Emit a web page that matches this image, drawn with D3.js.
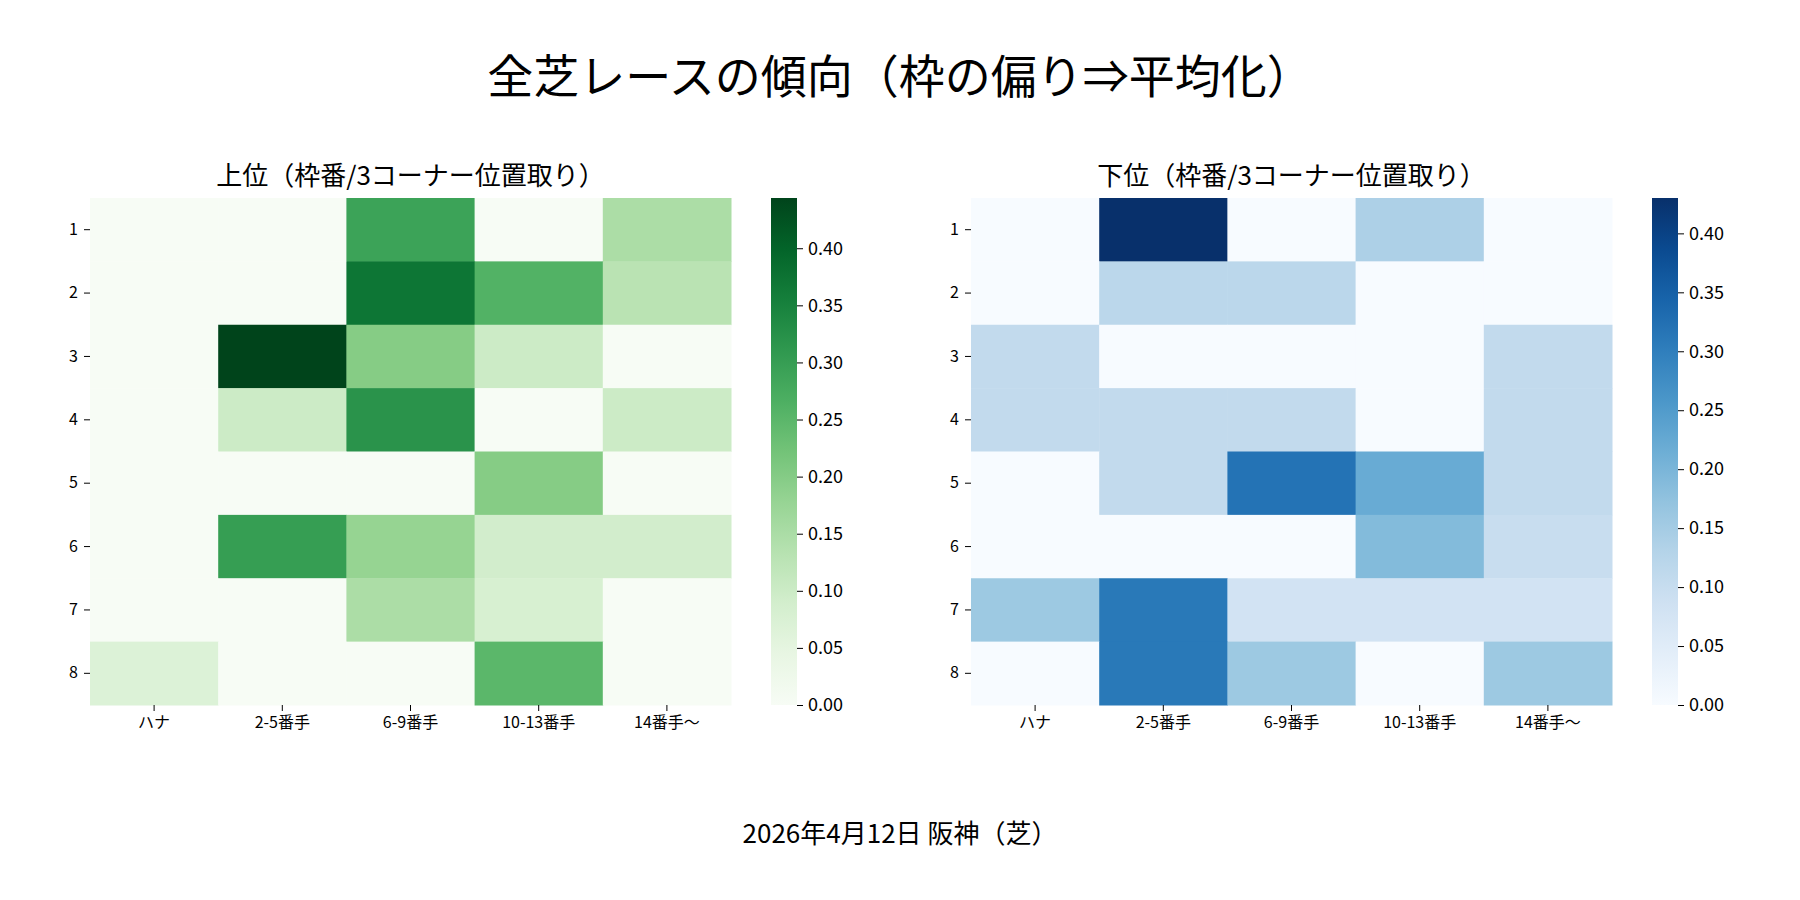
<!DOCTYPE html>
<html><head><meta charset="utf-8">
<script src="https://cdn.jsdelivr.net/npm/d3@7"></script>
<style>body{margin:0;background:#fff}text{font-family:"Noto Sans CJK JP",sans-serif;fill:#000}</style>
</head><body><svg id="c" width="1800" height="900"></svg>
<script>
var rows = ["1","2","3","4","5","6","7","8"];
var cols = ["ハナ","2-5番手","6-9番手","10-13番手","14番手〜"];
var topValues = [
  [0,0,0.29,0,0.15],
  [0,0,0.37,0.26,0.13],
  [0,0.444,0.20,0.10,0],
  [0,0.10,0.32,0,0.10],
  [0,0,0,0.20,0],
  [0,0.30,0.18,0.09,0.09],
  [0,0,0.15,0.08,0],
  [0.07,0,0,0.25,0]
];
var bottomValues = [
  [0,0.43,0,0.14,0],
  [0,0.12,0.12,0,0],
  [0.11,0,0,0,0.11],
  [0.11,0.11,0.11,0,0.11],
  [0,0.11,0.32,0.22,0.11],
  [0,0,0,0.19,0.10],
  [0.16,0.31,0.08,0.08,0.08],
  [0,0.31,0.16,0,0.16]
];
var cbTicks = [0,0.05,0.10,0.15,0.20,0.25,0.30,0.35,0.40];

var svg = d3.select("#c");
svg.append("text").attr("x",900).attr("y",93).attr("text-anchor","middle")
  .style("font-size","46px").text("全芝レースの傾向（枠の偏り⇒平均化）");
svg.append("text").attr("x",900).attr("y",843).attr("text-anchor","middle")
  .style("font-size","26px").text("2026年4月12日 阪神（芝）");

function panel(x0, title, values, interp, cbx) {
  var W = 641, top = 198, H = 507;
  var x = d3.scaleBand().domain(cols).range([x0, x0+W]);
  var y = d3.scaleBand().domain(rows).range([top, top+H]);
  var vmax = d3.max(values, function(r){ return d3.max(r); });
  var color = d3.scaleSequential(interp).domain([0, vmax]);
  var g = svg.append("g");
  values.forEach(function(r, i){
    r.forEach(function(v, j){
      g.append("rect").attr("x", x(cols[j])).attr("y", y(rows[i]))
        .attr("width", x.bandwidth()+0.5).attr("height", y.bandwidth()+0.5)
        .attr("fill", color(v));
    });
  });
  var ax = g.append("g").attr("transform","translate(0,"+(top+H)+")").call(d3.axisBottom(x).tickSize(6).tickPadding(6));
  var ay = g.append("g").attr("transform","translate("+x0+",0)").call(d3.axisLeft(y).tickSize(6).tickPadding(6));
  [ax, ay].forEach(function(a){ a.select(".domain").remove(); a.selectAll("text").style("font-size","16px").style("font-family",'"Noto Sans CJK JP",sans-serif'); });
  g.append("text").attr("x", x0+W/2).attr("y", 185).attr("text-anchor","middle")
    .style("font-size","26px").text(title);
  // colorbar
  var cw = 26;
  var cy = d3.scaleLinear().domain([0, vmax]).range([top+H, top]);
  var id = "grad"+cbx;
  var grad = svg.append("defs").append("linearGradient").attr("id", id)
    .attr("x1",0).attr("y1",1).attr("x2",0).attr("y2",0);
  d3.range(0,1.01,0.1).forEach(function(t){
    grad.append("stop").attr("offset", t).attr("stop-color", color(t*vmax));
  });
  g.append("rect").attr("x", cbx).attr("y", top).attr("width", cw).attr("height", H).attr("fill","url(#"+id+")");
  var ac = g.append("g").attr("transform","translate("+(cbx+cw)+",0)")
    .call(d3.axisRight(cy).tickValues(cbTicks.filter(function(t){return t<=vmax;})).tickFormat(d3.format(".2f")).tickSize(6).tickPadding(5));
  ac.select(".domain").remove();
  ac.selectAll("text").style("font-size","18px").style("font-family",'"Noto Sans CJK JP",sans-serif');
}
panel(90, "上位（枠番/3コーナー位置取り）", topValues, d3.interpolateGreens, 771);
panel(971, "下位（枠番/3コーナー位置取り）", bottomValues, d3.interpolateBlues, 1652);
</script></body></html>
